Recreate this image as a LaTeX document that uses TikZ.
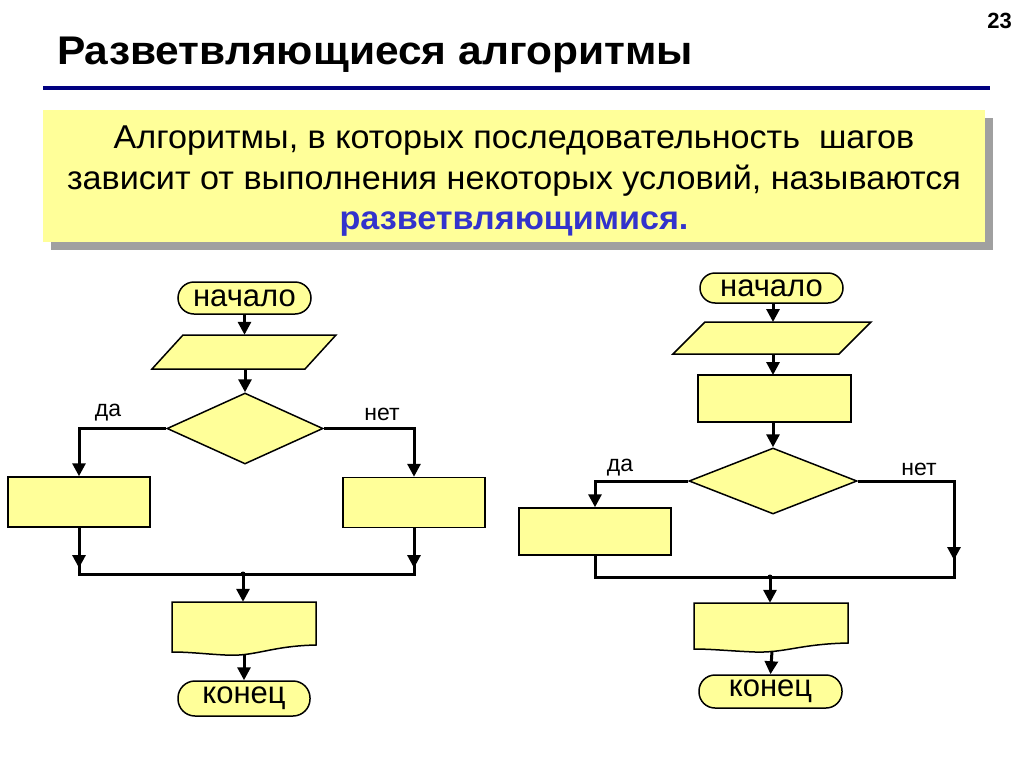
\documentclass[tikz,border=0pt]{standalone}
\usepackage{fontspec}
\setmainfont{Liberation Sans}
\usetikzlibrary{shapes.geometric,arrows.meta}
\definecolor{fillY}{HTML}{FFFF99}
\definecolor{navyL}{HTML}{000080}
\definecolor{shadowG}{HTML}{A0A0A0}
\definecolor{blueT}{HTML}{3333CC}
\begin{document}
\begin{tikzpicture}[x=1pt,y=-1pt,
  term/.style={draw, fill=fillY, line width=1.5pt, inner sep=0, font=\fontsize{31}{32}\selectfont},
  proc/.style={draw, fill=fillY, line width=1.5pt, inner sep=0},
  dec/.style={draw, fill=fillY, diamond, line width=1.5pt, inner sep=0},
  ghost/.style={draw=none, inner sep=0},
  shp/.style={draw, fill=fillY, line width=1.5pt},
  conn/.style={line width=3pt},
  arr/.style={conn, -{Triangle[length=13pt,width=13pt]}},
  lbl/.style={font=\fontsize{23}{25}\selectfont},
  body/.style={anchor=base, font=\fontsize{33}{34}\selectfont},
  jdot/.style={circle, fill, inner sep=0, minimum size=5pt}
]
\useasboundingbox (0,0) rectangle (1024,768);
\fill[white] (0,0) rectangle (1024,768);

% header
\node[anchor=base west, inner sep=0, font=\fontsize{40}{42}\bfseries\selectfont] (title) at (57,64) {\scalebox{1.062}[1]{Разветвляющиеся алгоритмы}};
\node[anchor=base east, inner sep=0, font=\fontsize{22}{24}\bfseries\selectfont] (pnum) at (1012,29) {23};
\draw[navyL, line width=4pt] (43,88) -- (990,88);

% definition box
\fill[shadowG] (51,118) rectangle (993,250);
\fill[fillY] (43,110) rectangle (985,242);
\node[body] (l1) at (514,148) {\scalebox{1.035}[1]{Алгоритмы, в которых последовательность\ \ шагов}};
\node[body] (l2) at (514,189) {\scalebox{1.035}[1]{зависит от выполнения некоторых условий, называются}};
\node[body, font=\fontsize{33}{34}\bfseries\selectfont, text=blueT] (l3) at (514,229) {\scalebox{1.035}[1]{разветвляющимися.}};

% ===== left flowchart =====
\node[term, minimum width=133pt, minimum height=32pt, rounded corners=16pt] (t1) at (244.5,298) {начало};
\node[ghost, minimum width=184pt, minimum height=34pt] (p1) at (244,352) {};
\path[shp] (183,335) -- (336,335) -- (305,369) -- (152,369) -- cycle;
\node[dec, minimum width=156pt, minimum height=71pt] (d1) at (245,428.5) {};
\node[proc, minimum width=142pt, minimum height=50pt] (r1) at (79,502) {};
\node[proc, minimum width=142pt, minimum height=50pt] (r2) at (414,502.5) {};
\node[ghost, minimum width=144pt, minimum height=50pt] (doc1) at (244,627) {};
\path[shp] (172,602) -- (316,602) -- (316,645) .. controls (270,646) and (255,657) .. (225,655) .. controls (205,654) and (190,652) .. (172,652) -- cycle;
\node[term, minimum width=132pt, minimum height=35pt, rounded corners=17pt] (t2) at (244,698.5) {конец};
\coordinate (m1) at (79,574);
\coordinate (m2) at (414,574);
\node[jdot] (j1) at (243,574) {};
\node[lbl] (da1) at (108,413) {да};
\node[lbl] (net1) at (382,414) {нет};

\draw[arr] (t1.south) -- (t1.south |- p1.north);
\draw[arr] (245,369) -- (d1.north);
\draw[arr] (d1.west) -| (r1.north);
\draw[arr] (d1.east) -| (r2.north);
\draw[conn] (r1.south) -- (m1) -- (m2) -- (r2.south);
\draw[arr, shorten >=6pt] (r1.south) -- (m1);
\draw[arr, shorten >=6pt] (r2.south) -- (m2);
\draw[arr] (j1.center) -- (j1.center |- doc1.north);
\draw[arr] (244,655) -- (t2.north);

% ===== right flowchart =====
\node[term, minimum width=143pt, minimum height=30pt, rounded corners=15pt] (t3) at (771.5,288) {начало};
\node[ghost, minimum width=198pt, minimum height=32pt] (p2) at (772,338) {};
\path[shp] (705,322) -- (871,322) -- (839,354) -- (673,354) -- cycle;
\node[proc, minimum width=153pt, minimum height=47pt] (r3) at (774.5,398.5) {};
\node[dec, minimum width=168pt, minimum height=66pt] (d2) at (773,481) {};
\node[proc, minimum width=152pt, minimum height=47pt] (r4) at (595,531.5) {};
\node[ghost, minimum width=154pt, minimum height=47pt] (doc2) at (771,626.5) {};
\path[shp] (694,603) -- (848,603) -- (848,643) .. controls (800,644) and (785,653) .. (755,652) .. controls (730,651) and (712,649) .. (694,649) -- cycle;
\node[term, minimum width=143pt, minimum height=33pt, rounded corners=16pt] (t4) at (770.5,691.5) {конец};
\coordinate (m3) at (595,577);
\coordinate (m4) at (954,577);
\node[jdot] (j2) at (770,577) {};
\node[lbl] (da2) at (620,468) {да};
\node[lbl] (net2) at (919,469) {нет};

\draw[arr] (773,303) -- (773,322);
\draw[arr] (773,354) -- (773,375);
\draw[arr] (773,422) -- (d2.north);
\draw[arr] (d2.west) -| (r4.north);
\draw[conn] (d2.east) -| (m4) -- (m3) -- (r4.south);
\draw[arr, shorten >=17pt] (d2.east) -| (m4);
\draw[arr] (j2.center) -- (j2.center |- doc2.north);
\draw[arr] (772,651) -- (t4.north);
\end{tikzpicture}
\end{document}
